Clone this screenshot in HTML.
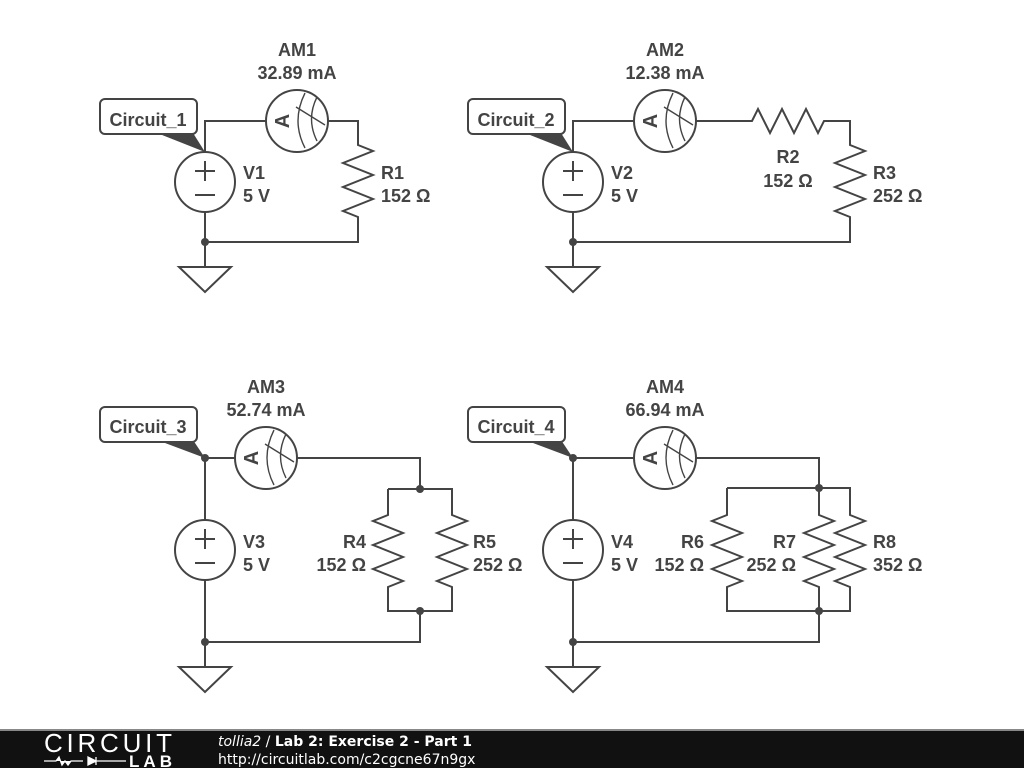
<!DOCTYPE html>
<html><head><meta charset="utf-8"><style>
html,body{margin:0;padding:0;background:#fff;width:1024px;height:768px;overflow:hidden}
svg text{font-family:"Liberation Sans",sans-serif;font-weight:bold;font-size:18px;fill:#444}
</style></head><body>
<svg width="1024" height="768" viewBox="0 0 1024 768" xmlns="http://www.w3.org/2000/svg">
<defs>
<g id="am">
<circle cx="0" cy="0" r="31" fill="#fff" stroke="#444" stroke-width="2"/>
<text x="0" y="0" transform="translate(-15,0) rotate(-90)" text-anchor="middle" dy="7" style="font-size:20px">A</text>
<path d="M8 -28 Q-6 0 8 27 M20 -24 Q9 -2 20 20 M-1 -14 L28 4" fill="none" stroke="#444" stroke-width="1.4"/>
</g>
<g id="vs">
<circle cx="0" cy="0" r="30" fill="#fff" stroke="#444" stroke-width="2"/>
<path d="M-10 -11 h20 M0 -21 v20 M-10 13 h20" stroke="#444" stroke-width="2"/>
</g>
<g id="gnd">
<path d="M-26 0 h52 L0 25 Z" fill="#fff" stroke="#444" stroke-width="2"/>
</g>
</defs>
<g fill="none" stroke="#444" stroke-width="2" stroke-linejoin="miter">
<path d="M205 152 V121 H358 V145 l15 6 l-30 12 l30 12 l-30 12 l30 12 l-30 12 l15 6 V242 H205 V212"/>
<path d="M205 242 V267"/>
<path d="M573 152 V121 H752 l6 -12 l12 24 l12 -24 l12 24 l12 -24 l12 24 l6 -12 H850 V145 l15 6 l-30 12 l30 12 l-30 12 l30 12 l-30 12 l15 6 V242 H573 V212"/>
<path d="M573 242 V267"/>
<path d="M205 520 V458 H420 V489"/>
<path d="M388 489 H452 V515 l15 6 l-30 12 l30 12 l-30 12 l30 12 l-30 12 l15 6 V611 H388 V587 l15 -6 l-30 -12 l30 -12 l-30 -12 l30 -12 l-30 -12 l15 -6 V489"/>
<path d="M420 611 V642 H205 V580 M205 642 V667"/>
<path d="M573 520 V458 H819 V488"/>
<path d="M727 488 H850 V515 l15 6 l-30 12 l30 12 l-30 12 l30 12 l-30 12 l15 6 V611 H727 V587 l15 -6 l-30 -12 l30 -12 l-30 -12 l30 -12 l-30 -12 l15 -6 V488"/>
<path d="M819 488 V515 l15 6 l-30 12 l30 12 l-30 12 l30 12 l-30 12 l15 6 V611"/>
<path d="M819 611 V642 H573 V580 M573 642 V667"/>
</g>
<use href="#am" x="297" y="121"/>
<use href="#am" x="665" y="121"/>
<use href="#am" x="266" y="458"/>
<use href="#am" x="665" y="458"/>
<use href="#vs" x="205" y="182"/>
<use href="#vs" x="573" y="182"/>
<use href="#vs" x="205" y="550"/>
<use href="#vs" x="573" y="550"/>
<use href="#gnd" x="205" y="267"/>
<use href="#gnd" x="573" y="267"/>
<use href="#gnd" x="205" y="667"/>
<use href="#gnd" x="573" y="667"/>
<g fill="#444">
<circle cx="205" cy="242" r="4"/><circle cx="573" cy="242" r="4"/>
<circle cx="205" cy="458" r="4"/><circle cx="420" cy="489" r="4"/><circle cx="420" cy="611" r="4"/><circle cx="205" cy="642" r="4"/>
<circle cx="573" cy="458" r="4"/><circle cx="819" cy="488" r="4"/><circle cx="819" cy="611" r="4"/><circle cx="573" cy="642" r="4"/>
<polygon points="157,133 193,133 205,152"/>
<polygon points="525,133 561,133 573,152"/>
<polygon points="157,440 193,440 205,458"/>
<polygon points="525,440 561,440 573,458"/>
</g>
<g fill="#fff" stroke="#444" stroke-width="2">
<rect x="100" y="99" width="97" height="35" rx="5"/>
<rect x="468" y="99" width="97" height="35" rx="5"/>
<rect x="100" y="407" width="97" height="35" rx="5"/>
<rect x="468" y="407" width="97" height="35" rx="5"/>
</g>
<text x="148" y="126" text-anchor="middle">Circuit_1</text>
<text x="516" y="126" text-anchor="middle">Circuit_2</text>
<text x="148" y="433" text-anchor="middle">Circuit_3</text>
<text x="516" y="433" text-anchor="middle">Circuit_4</text>
<g text-anchor="middle">
<text x="297" y="56">AM1</text><text x="297" y="79">32.89 mA</text>
<text x="665" y="56">AM2</text><text x="665" y="79">12.38 mA</text>
<text x="266" y="393">AM3</text><text x="266" y="416">52.74 mA</text>
<text x="665" y="393">AM4</text><text x="665" y="416">66.94 mA</text>
<text x="788" y="163">R2</text><text x="788" y="187">152 Ω</text>
</g>
<text x="243" y="179">V1</text><text x="243" y="202">5 V</text>
<text x="611" y="179">V2</text><text x="611" y="202">5 V</text>
<text x="243" y="548">V3</text><text x="243" y="571">5 V</text>
<text x="611" y="548">V4</text><text x="611" y="571">5 V</text>
<text x="381" y="179">R1</text><text x="381" y="202">152 Ω</text>
<text x="873" y="179">R3</text><text x="873" y="202">252 Ω</text>
<text x="473" y="548">R5</text><text x="473" y="571">252 Ω</text>
<text x="873" y="548">R8</text><text x="873" y="571">352 Ω</text>
<g text-anchor="end">
<text x="366" y="548">R4</text><text x="366" y="571">152 Ω</text>
<text x="704" y="548">R6</text><text x="704" y="571">152 Ω</text>
<text x="796" y="548">R7</text><text x="796" y="571">252 Ω</text>
</g>
<rect x="0" y="729" width="1024" height="39" fill="#111"/>
<rect x="0" y="729" width="1024" height="2" fill="#888"/>
<text x="44" y="752" textLength="128" style="font-weight:normal;font-size:26px;fill:#fff">CIRCUIT</text>
<path d="M44 761 h12 l3 -4 l3 8 l3 -4 l3 4 l3 -4 h12 M88 757 v8 l8 -4 Z M96 757 v8 M96 761 h30" stroke="#fff" stroke-width="1.3" fill="#fff"/>
<text x="129" y="767" textLength="43" style="font-size:17px;fill:#fff">LAB</text>
<text x="218" y="746" style="font-family:'DejaVu Sans',sans-serif;font-size:14px;fill:#fff;font-weight:normal"><tspan font-style="italic">tollia2</tspan> / <tspan font-weight="bold">Lab 2: Exercise 2 - Part 1</tspan></text>
<text x="218" y="764" style="font-family:'DejaVu Sans',sans-serif;font-size:14px;fill:#fff;font-weight:normal">http://circuitlab.com/c2cgcne67n9gx</text>
</svg>
</body></html>
